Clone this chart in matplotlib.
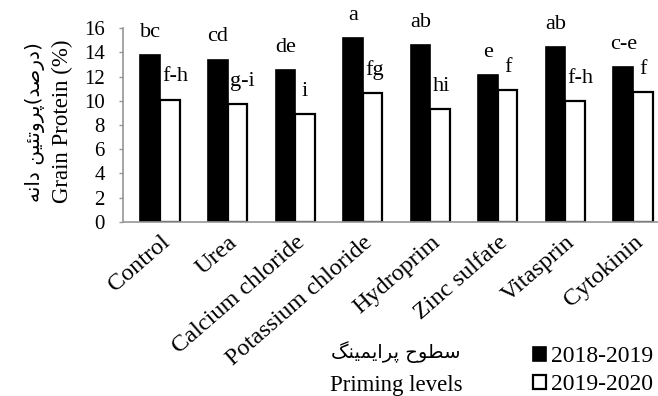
import numpy as np
import matplotlib
matplotlib.use("Agg")
from matplotlib import pyplot as plt
from matplotlib.transforms import ScaledTranslation

plt.rcParams['font.family'] = ['Liberation Serif', 'DejaVu Sans']

# data
categories = ["Control", "Urea", "Calcium chloride", "Potassium chloride",
              "Hydroprim", "Zinc sulfate", "Vitasprin", "Cytokinin"]
protein_2018 = [13.8, 13.4, 12.5, 15.2, 14.6, 12.1, 14.4, 12.8]
protein_2019 = [10.1, 9.7, 8.9, 10.6, 9.3, 10.9, 10.0, 10.7]
letters_2018 = ["bc", "cd", "de", "a", "ab", "e", "ab", "c-e"]
letters_2019 = ["f-h", "g-i", "i", "fg", "hi", "f", "f-h", "f"]
seasons = ["2018-2019", "2019-2020"]
yticks = [0, 2, 4, 6, 8, 10, 12, 14, 16]

# Persian labels: matplotlib does no Arabic shaping, so pick the
# presentation forms by hand (iso, final, initial, medial)
FORMS = {
    'ا': ('\uFE8D', '\uFE8E', None, None),
    'د': ('\uFEA9', '\uFEAA', None, None),
    'ر': ('\uFEAD', '\uFEAE', None, None),
    'و': ('\uFEED', '\uFEEE', None, None),
    'ت': ('\uFE95', '\uFE96', '\uFE97', '\uFE98'),
    'ن': ('\uFEE5', '\uFEE6', '\uFEE7', '\uFEE8'),
    'ه': ('\uFEE9', '\uFEEA', '\uFEEB', '\uFEEC'),
    'ص': ('\uFEB9', '\uFEBA', '\uFEBB', '\uFEBC'),
    'س': ('\uFEB1', '\uFEB2', '\uFEB3', '\uFEB4'),
    'ط': ('\uFEC1', '\uFEC2', '\uFEC3', '\uFEC4'),
    'ح': ('\uFEA1', '\uFEA2', '\uFEA3', '\uFEA4'),
    'م': ('\uFEE1', '\uFEE2', '\uFEE3', '\uFEE4'),
    'ئ': ('\uFE89', '\uFE8A', '\uFE8B', '\uFE8C'),
    'ی': ('\uFBFC', '\uFBFD', '\uFBFE', '\uFBFF'),
    'پ': ('\uFB56', '\uFB57', '\uFB58', '\uFB59'),
    'گ': ('\uFB92', '\uFB93', '\uFB94', '\uFB95'),
}


def shape(text):
    out = []
    for i, c in enumerate(text):
        if c not in FORMS:
            out.append(c)
            continue
        f = FORMS[c]
        prev = i > 0 and text[i-1] in FORMS and FORMS[text[i-1]][2] is not None
        nxt = i < len(text)-1 and text[i+1] in FORMS and f[2] is not None
        if prev and nxt:
            out.append(f[3])
        elif prev:
            out.append(f[1])
        elif nxt:
            out.append(f[2])
        else:
            out.append(f[0])
    # visual order, left to right
    return "".join(out)[::-1]


fa_ylabel = shape("دانه") + " " + shape("پروتئین") + "(" + shape("درصد") + ")"
fa_xlabel = shape("سطوح پرایمینگ")

# Plot
fig = plt.figure(figsize=(6.58, 3.96), dpi=100)
ax = fig.add_axes([123/658, 1-222/396, 1-123/658, 194/396])

x = np.arange(len(categories))
w = 0.29
b1 = ax.bar(x - w/2, protein_2018, w, color="black", edgecolor="black", linewidth=1.2, label=seasons[0])
b2 = ax.bar(x + w/2, protein_2019, w, color="white", edgecolor="black", linewidth=1.6, label=seasons[1])

for xi, v, s in zip(x, protein_2018, letters_2018):
    ax.annotate(s, (xi - w/2, v), xytext=(0, 13), textcoords="offset points",
                ha="center", va="baseline", fontsize=16)
# wider letters start at the left edge of the white bar, so they clear the black one
for xi, v, s in zip(x, protein_2019, letters_2019):
    if len(s) == 1:
        ax.annotate(s, (xi + w/2, v), xytext=(0, 13), textcoords="offset points",
                    ha="center", va="baseline", fontsize=16)
    else:
        ax.annotate(s, (xi, v), xytext=(1.5, 13), textcoords="offset points",
                    ha="left", va="baseline", fontsize=16)

ax.set_xlim(-0.548, 7.37)
ax.set_ylim(0, 16)
ax.set_yticks(yticks)
ax.set_yticklabels([str(t) for t in yticks], fontsize=15)
ax.set_xticks(x)
ax.set_xticklabels(categories, rotation=41, ha="right", va="top",
                   rotation_mode="anchor", fontsize=17.5)
shift = ScaledTranslation(3/100, 0, fig.dpi_scale_trans)
for lab in ax.get_xticklabels():
    lab.set_transform(lab.get_transform() + shift)

gray = "#969696"
for side in ["top", "right"]:
    ax.spines[side].set_visible(False)
for side in ["left", "bottom"]:
    ax.spines[side].set_color(gray)
    ax.spines[side].set_linewidth(1.2)
ax.tick_params(axis="y", color=gray, length=3, width=1, pad=10)
ax.tick_params(axis="x", length=0, pad=7)

fig.text(62/658, 1-121/396, "Grain Protein (%)", rotation=90,
         ha="center", va="center", fontsize=16.5)
fig.text(35/658, 1-122/396, fa_ylabel, rotation=90, ha="center", va="center",
         fontsize=14.5, family=["DejaVu Sans"])
fig.text(396/658, 1-352/396, fa_xlabel, ha="center", va="center",
         fontsize=14, family=["DejaVu Sans"])
fig.text(396/658, 1-385/396, "Priming levels", ha="center", va="center", fontsize=16.5)

fig.legend([b1, b2], seasons, loc="upper left", bbox_to_anchor=(533/658, 1-346/396),
           frameon=False, fontsize=17, handlelength=0.55, handleheight=0.55,
           handletextpad=0.2, labelspacing=0.3, borderpad=0, borderaxespad=0)

plt.savefig("out.png")
